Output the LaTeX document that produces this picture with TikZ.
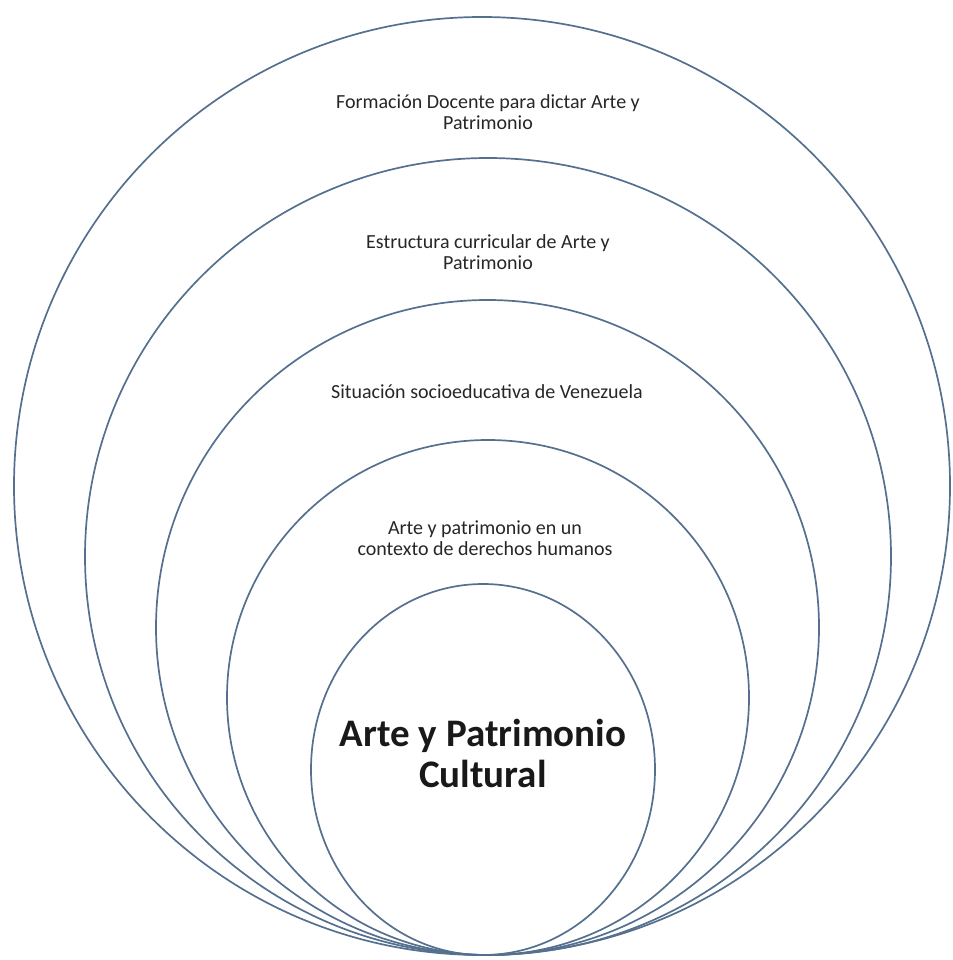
\documentclass[tikz,border=0pt]{standalone}
\usepackage{fontspec}
\setmainfont{Carlito}
\definecolor{ringcol}{RGB}{84,112,142}
\begin{document}
\begin{tikzpicture}[x=1pt,y=-1pt,
  ring/.style={draw=ringcol,line width=1.7pt},
  small/.style={align=center,font=\fontsize{20}{20.5}\selectfont,text=black!85,inner sep=0pt},
  big/.style={align=center,font=\fontsize{39}{41}\selectfont\bfseries,text=black!90,inner sep=0pt}]
\useasboundingbox (0,0) rectangle (952,960);
\draw[ring] (482,486) ellipse [x radius=468, y radius=469];
\draw[ring] (488,556.5) ellipse [x radius=403, y radius=398.5];
\draw[ring] (487.5,627.5) ellipse [x radius=331.5, y radius=327.5];
\draw[ring] (488,697.5) ellipse [x radius=261, y radius=257.5];
\draw[ring] (483,769.5) ellipse [x radius=172, y radius=185.5];
\node[small] (t1) at (488,112) {Formación Docente para dictar Arte y\\Patrimonio};
\node[small] (t2) at (488,252) {Estructura curricular de Arte y\\Patrimonio};
\node[small] (t3) at (487,392) {Situación socioeducativa de Venezuela};
\node[small] (t4) at (485,538) {Arte y patrimonio en un\\contexto de derechos humanos};
\node[big] (t5) at (483,753) {Arte y Patrimonio\\Cultural};
\end{tikzpicture}
\end{document}
